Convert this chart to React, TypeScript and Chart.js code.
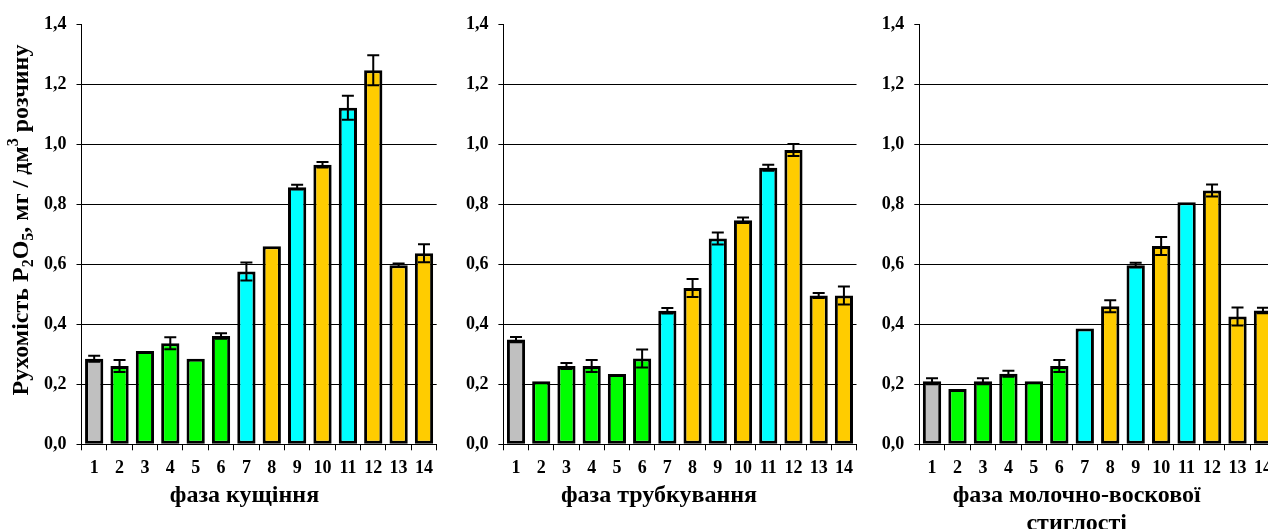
import React, { useEffect, useRef } from 'react';
import { Chart, registerables } from 'chart.js';

Chart.register(...registerables);

const categories = ['1', '2', '3', '4', '5', '6', '7', '8', '9', '10', '11', '12', '13', '14'];
const barColors = ['#C0C0C0', '#00FF00', '#00FF00', '#00FF00', '#00FF00', '#00FF00', '#00FFFF', '#FFCC00', '#00FFFF', '#FFCC00', '#00FFFF', '#FFCC00', '#FFCC00', '#FFCC00'];

const tilleringValues = [0.285, 0.261, 0.311, 0.337, 0.285, 0.361, 0.576, 0.66, 0.857, 0.932, 1.122, 1.247, 0.597, 0.637];
const tilleringErrors = [0.01, 0.02, 0, 0.02, 0, 0.009, 0.03, 0, 0.008, 0.009, 0.04, 0.05, 0.006, 0.03];

const bootingValues = [0.349, 0.21, 0.261, 0.261, 0.234, 0.286, 0.445, 0.521, 0.686, 0.747, 0.922, 0.981, 0.496, 0.496];
const bootingErrors = [0.009, 0, 0.01, 0.02, 0, 0.03, 0.009, 0.03, 0.02, 0.009, 0.01, 0.02, 0.008, 0.03];

const ripenessValues = [0.21, 0.184, 0.21, 0.235, 0.21, 0.261, 0.386, 0.46, 0.597, 0.661, 0.807, 0.846, 0.426, 0.446];
const ripenessErrors = [0.01, 0, 0.01, 0.01, 0, 0.02, 0, 0.02, 0.008, 0.03, 0, 0.02, 0.03, 0.009];

const yMin = 0;
const yMax = 1.4;
const yStep = 0.2;

const yTitleParts = [
  { t: 'Рухомість P', k: 'n' },
  { t: '2', k: 'sub' },
  { t: 'O', k: 'n' },
  { t: '5', k: 'sub' },
  { t: ', мг / дм', k: 'n' },
  { t: '3', k: 'sup' },
  { t: ' розчину', k: 'n' },
];

const FONT = '"Liberation Serif", "Times New Roman", serif';

const panels = [
  { key: 'a', left: 0, width: 440, axisWidth: 81.5, padRight: 0.3, titleX: 244.5, values: tilleringValues, errors: tilleringErrors, title: ['фаза кущіння'], yTitle: true },
  { key: 'b', left: 440, width: 420, axisWidth: 63.4, padRight: 2.4, titleX: 219, values: bootingValues, errors: bootingErrors, title: ['фаза трубкування'], yTitle: false },
  { key: 'c', left: 860, width: 420, axisWidth: 59.3, padRight: 4.3, titleX: 216.7, values: ripenessValues, errors: ripenessErrors, title: ['фаза молочно-воскової', 'стиглості'], yTitle: false },
];

const errorBarPlugin = {
  id: 'errorBars',
  afterDatasetsDraw(chart: any, _args: any, opts: any) {
    const errs: number[] = opts.errors || [];
    const meta = chart.getDatasetMeta(0);
    const ys = chart.scales.y;
    const vals = chart.data.datasets[0].data as number[];
    const ctx = chart.ctx;
    ctx.save();
    ctx.strokeStyle = '#000';
    ctx.lineWidth = 2;
    meta.data.forEach((el: any, i: number) => {
      const e = errs[i];
      if (!e) return;
      const x = el.x;
      const yt = ys.getPixelForValue(vals[i] + e);
      const yb = ys.getPixelForValue(vals[i] - e);
      ctx.beginPath();
      ctx.moveTo(x, yt);
      ctx.lineTo(x, yb);
      ctx.moveTo(x - 6, yt);
      ctx.lineTo(x + 6, yt);
      ctx.moveTo(x - 6, yb);
      ctx.lineTo(x + 6, yb);
      ctx.stroke();
    });
    ctx.restore();
  },
};

const titlesPlugin = {
  id: 'panelTitles',
  afterDraw(chart: any, _args: any, opts: any) {
    const ctx = chart.ctx;
    ctx.save();
    ctx.fillStyle = '#000';
    ctx.textAlign = 'center';
    ctx.textBaseline = 'alphabetic';
    ctx.font = `bold 24px ${FONT}`;
    (opts.lines || []).forEach((line: string, i: number) => {
      ctx.fillText(line, opts.x, 502 + i * 28);
    });
    if (opts.yTitle) {
      const size = 24;
      const small = 16;
      const measure = (p: any) => {
        ctx.font = `bold ${p.k === 'n' ? size : small}px ${FONT}`;
        return ctx.measureText(p.t).width;
      };
      const total = yTitleParts.reduce((s, p) => s + measure(p), 0);
      ctx.translate(28, 220);
      ctx.rotate(-Math.PI / 2);
      ctx.textAlign = 'left';
      let x = -total / 2;
      yTitleParts.forEach((p) => {
        const w = measure(p);
        let dy = 0;
        if (p.k === 'sub') dy = 5;
        if (p.k === 'sup') dy = -10;
        ctx.fillText(p.t, x, dy);
        x += w;
      });
    }
    ctx.restore();
  },
};

function Panel({ p }: { p: any }) {
  const ref = useRef<HTMLCanvasElement | null>(null);
  useEffect(() => {
    if (!ref.current) return;
    const chart = new Chart(ref.current, {
      type: 'bar',
      data: {
        labels: categories,
        datasets: [
          {
            data: p.values,
            backgroundColor: barColors,
            borderColor: '#000',
            borderWidth: 3,
            borderSkipped: false,
            barPercentage: 0.72,
            categoryPercentage: 1,
          },
        ],
      },
      options: {
        animation: false,
        responsive: false,
        maintainAspectRatio: false,
        layout: { padding: { left: 0, right: p.padRight, top: 24.3, bottom: 0 } },
        plugins: {
          legend: { display: false },
          tooltip: { enabled: false },
          errorBars: { errors: p.errors },
          panelTitles: { lines: p.title, yTitle: p.yTitle, x: p.titleX },
        } as any,
        scales: {
          x: {
            offset: true,
            grid: {
              offset: true,
              drawOnChartArea: false,
              drawTicks: true,
              tickLength: 6,
              color: '#000',
              lineWidth: 1,
            },
            border: { display: true, color: '#000', width: 1 },
            ticks: {
              color: '#000',
              font: { family: FONT, size: 18, weight: 'bold' },
              padding: 7,
              maxRotation: 0,
              autoSkip: false,
            },
            afterFit: (s: any) => {
              s.height = 84.7;
            },
          },
          y: {
            min: yMin,
            max: yMax,
            grid: {
              color: (c: any) => (c.tick && Math.abs(c.tick.value - yMax) < 1e-6 ? 'rgba(0,0,0,0)' : '#000'),
              tickColor: '#000',
              tickLength: 5,
              lineWidth: 1,
            },
            border: { display: true, color: '#000', width: 1 },
            ticks: {
              stepSize: yStep,
              color: '#000',
              padding: 10,
              font: { family: FONT, size: 18, weight: 'bold' },
              callback: (v: any) => Number(v).toFixed(1).replace('.', ','),
            },
            afterFit: (s: any) => {
              s.width = p.axisWidth;
            },
          },
        },
      },
      plugins: [errorBarPlugin, titlesPlugin],
    });
    return () => chart.destroy();
  }, []);
  return (
    <canvas
      ref={ref}
      width={p.width}
      height={529}
      style={{ position: 'absolute', left: p.left, top: 0, width: p.width, height: 529 }}
    />
  );
}

export default function App() {
  return (
    <div style={{ position: 'fixed', left: 0, top: 0, width: 1268, height: 529, overflow: 'hidden', background: '#fff' }}>
      {panels.map((p) => (
        <Panel key={p.key} p={p} />
      ))}
    </div>
  );
}
